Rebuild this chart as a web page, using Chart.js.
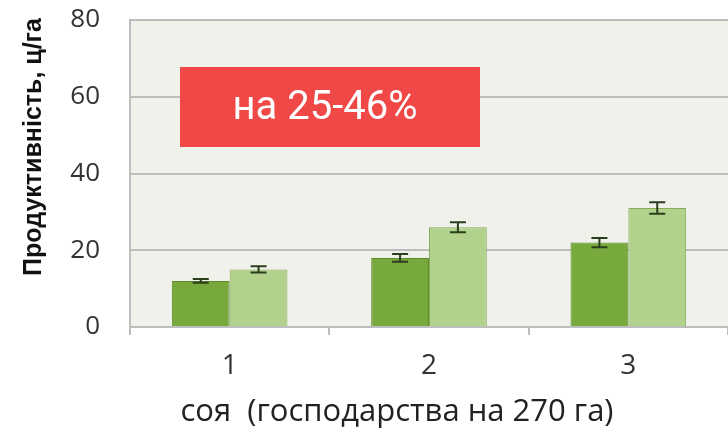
<!DOCTYPE html>
<html>
<head>
<meta charset="utf-8">
<script src="https://cdn.jsdelivr.net/npm/chart.js@4"></script>
<style>
  html, body { margin: 0; padding: 0; background: #ffffff; }
  #wrap { width: 728px; height: 436px; }
</style>
</head>
<body>
<div id="wrap"><canvas id="chart" width="728" height="436"></canvas></div>
<script>
// Data
const categories = ['1', '2', '3'];
const seriesA = [12, 18, 22];       // dark green
const seriesB = [15, 26, 31];       // light green
const errorsA = [0.5, 1.0, 1.2];
const errorsB = [0.8, 1.3, 1.5];
const yTicks = [0, 20, 40, 60, 80];
const yTitle = 'Продуктивність, ц/га';
const xTitle = 'соя  (господарства на 270 га)';
const badgeText = 'на 25-46%';

const FONT = "'Open Sans', 'Liberation Sans', sans-serif";

// Plot background fill
const plotBackground = {
    id: 'plotBackground',
    beforeDraw(chart) {
        const { ctx, chartArea: a } = chart;
        ctx.save();
        ctx.fillStyle = '#eff1ea';
        ctx.fillRect(a.left, a.top, a.right - a.left, a.bottom - a.top);
        ctx.restore();
    }
};

// Error bars from the error arrays
const errorBars = {
    id: 'errorBars',
    afterDatasetsDraw(chart) {
        const { ctx } = chart;
        const yScale = chart.scales.y;
        const errs = [errorsA, errorsB];
        ctx.save();
        ctx.strokeStyle = '#2b3f1c';
        ctx.lineWidth = 2;
        chart.data.datasets.forEach((ds, di) => {
            const meta = chart.getDatasetMeta(di);
            meta.data.forEach((bar, i) => {
                const v = ds.data[i];
                const e = errs[di][i];
                const yHi = yScale.getPixelForValue(v + e);
                const yLo = yScale.getPixelForValue(v - e);
                const x = bar.x;
                ctx.beginPath();
                ctx.moveTo(x, yHi); ctx.lineTo(x, yLo);
                ctx.moveTo(x - 8, yHi); ctx.lineTo(x + 8, yHi);
                ctx.moveTo(x - 8, yLo); ctx.lineTo(x + 8, yLo);
                ctx.stroke();
            });
        });
        ctx.restore();
    }
};

// Axis titles (placed like in the original slide) and the red badge
const annotations = {
    id: 'annotations',
    afterDraw(chart) {
        const { ctx } = chart;
        ctx.save();

        // y title, rotated
        ctx.translate(34, 147);
        ctx.rotate(-Math.PI / 2);
        ctx.fillStyle = '#111111';
        ctx.font = "bold 25px 'Liberation Sans Narrow', 'Liberation Sans', sans-serif";
        ctx.textAlign = 'center';
        ctx.textBaseline = 'middle';
        ctx.fillText(yTitle, 0, 0);
        ctx.setTransform(1, 0, 0, 1, 0, 0);

        // x title
        ctx.fillStyle = '#222222';
        ctx.font = '31px ' + FONT;
        ctx.textAlign = 'center';
        ctx.textBaseline = 'middle';
        ctx.fillText(xTitle, 397, 412);

        // badge
        const x = 180, y = 67, w = 300, h = 80;
        ctx.fillStyle = '#f04747';
        ctx.fillRect(x, y, w, h);
        ctx.fillStyle = '#ffffff';
        ctx.font = "40px Roboto, 'Open Sans', sans-serif";
        ctx.fillText(badgeText, 325, 109);
        ctx.restore();
    }
};

new Chart(document.getElementById('chart'), {
    type: 'bar',
    data: {
        labels: categories,
        datasets: [
            {
                label: 'A',
                data: seriesA,
                backgroundColor: '#78a93d',
                borderColor: '#5f8a2e',
                borderWidth: 1
            },
            {
                label: 'B',
                data: seriesB,
                backgroundColor: '#b2d18c',
                borderColor: '#86ad5a',
                borderWidth: 1
            }
        ]
    },
    options: {
        responsive: false,
        animation: false,
        layout: { padding: { top: 20, right: 0, left: 0, bottom: 0 } },
        categoryPercentage: 0.58,
        barPercentage: 1.0,
        plugins: {
            legend: { display: false },
            tooltip: { enabled: false }
        },
        scales: {
            x: {
                grid: {
                    offset: true,
                    drawOnChartArea: false,
                    drawTicks: true,
                    tickLength: 8,
                    color: '#bdbdbd',
                    lineWidth: 2
                },
                border: { display: true, color: '#bdbdbd', width: 2 },
                ticks: {
                    color: '#333333',
                    padding: 14,
                    font: { family: FONT, size: 28 }
                },
                afterFit(scale) {
                    scale.height = 436 - 327;
                    scale.paddingLeft = 0;
                    scale.paddingRight = 0;
                }
            },
            y: {
                min: 0,
                max: 80,
                afterBuildTicks(scale) {
                    scale.ticks = yTicks.map(v => ({ value: v }));
                },
                grid: {
                    color: '#bdbdbd',
                    lineWidth: 2,
                    drawTicks: false
                },
                border: { display: true, color: '#bdbdbd', width: 2 },
                ticks: {
                    color: '#333333',
                    padding: 30,
                    font: { family: FONT, size: 26 }
                },
                afterFit(scale) {
                    scale.width = 130;
                    scale.paddingTop = 0;
                    scale.paddingBottom = 0;
                }
            }
        }
    },
    plugins: [plotBackground, errorBars, annotations]
});
</script>
</body>
</html>
